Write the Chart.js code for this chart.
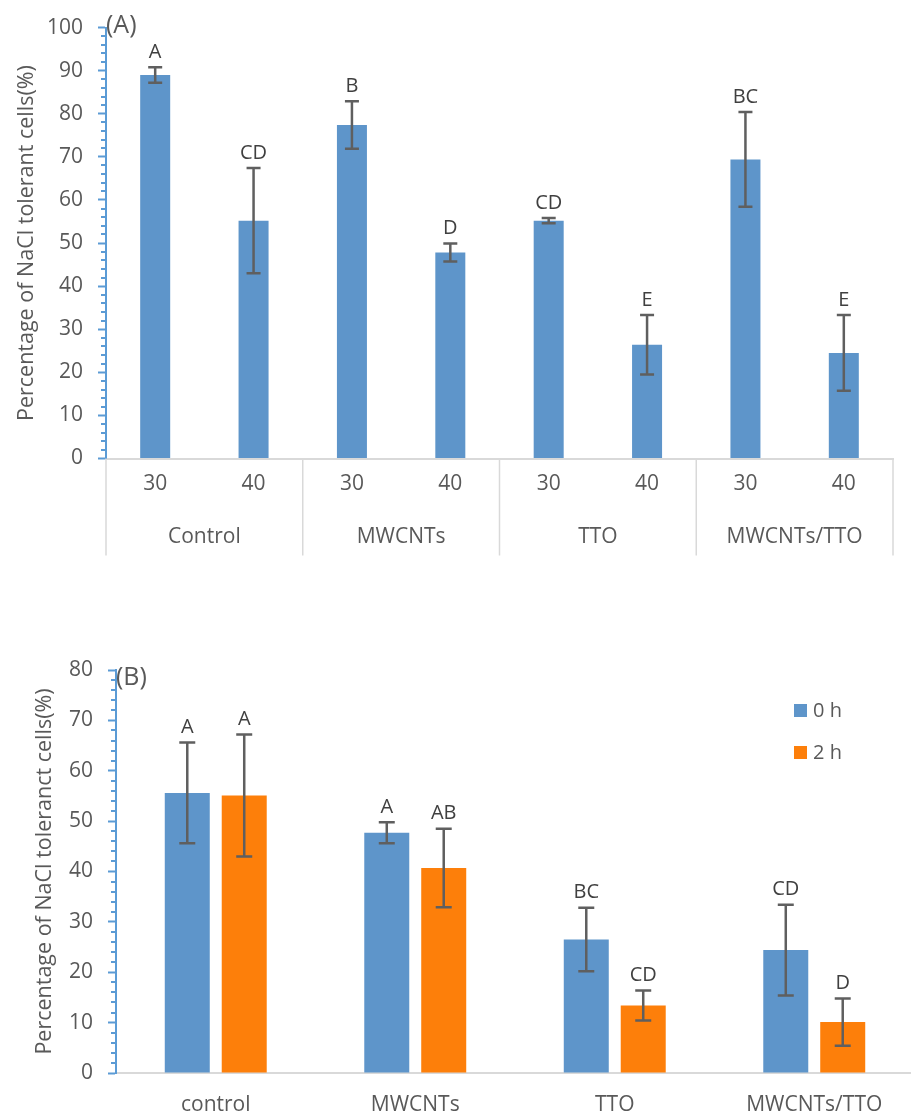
<!DOCTYPE html>
<html>
<head>
<meta charset="utf-8">
<script src="https://cdn.jsdelivr.net/npm/chart.js@4.4.1/dist/chart.umd.min.js"></script>
<style>
  html, body { margin: 0; padding: 0; background: #fff; overflow: hidden; }
  #wrapA { position: absolute; left: 0; top: 0; width: 911px; height: 570px; }
  #wrapB { position: absolute; left: 0; top: 640px; width: 940px; height: 478px; }
</style>
</head>
<body>
<div id="wrapA"><canvas id="chartA"></canvas></div>
<div id="wrapB"><canvas id="chartB"></canvas></div>
<script>
// (A) tolerant cells after treatment at 30 and 40 degrees
const groupsA = ['Control', 'MWCNTs', 'TTO', 'MWCNTs/TTO'];
const tempsA = ['30', '40'];
const meansA = [89.0, 55.2, 77.4, 47.8, 55.2, 26.4, 69.4, 24.5];
const errA = [1.8, 12.2, 5.5, 2.1, 0.6, 6.9, 11.0, 8.8];
const lettersA = ['A', 'CD', 'B', 'D', 'CD', 'E', 'BC', 'E'];

// (B) tolerant cells at 0 h and 2 h
const groupsB = ['control', 'MWCNTs', 'TTO', 'MWCNTs/TTO'];
const seriesB = ['0 h', '2 h'];
const means0h = [55.6, 47.7, 26.5, 24.4];
const err0h = [10.0, 2.1, 6.3, 9.0];
const letters0h = ['A', 'A', 'BC', 'CD'];
const means2h = [55.1, 40.7, 13.4, 10.1];
const err2h = [12.1, 7.8, 3.0, 4.7];
const letters2h = ['A', 'AB', 'CD', 'D'];

const blue = '#5e95ca';
const orange = '#fd7f0a';
const errColor = '#5f5f5f';
const axisBlue = '#5b9bd5';
const axisGray = '#d9d9d9';
const textColor = '#595959';
const letterColor = '#404040';
const sans = '"Open Sans", sans-serif';

Chart.defaults.font.family = sans;
Chart.defaults.color = textColor;
Chart.defaults.animation = false;

// error bars with the significance letter above each one
const errorBarPlugin = {
  id: 'errorBars',
  afterDatasetsDraw(chart, args, opts) {
    const ctx = chart.ctx;
    const y = chart.scales.y;
    chart.data.datasets.forEach((ds, i) => {
      chart.getDatasetMeta(i).data.forEach((bar, j) => {
        const v = ds.data[j], e = ds.errors[j];
        const top = y.getPixelForValue(v + e);
        const bot = y.getPixelForValue(v - e);
        ctx.save();
        ctx.strokeStyle = errColor;
        ctx.lineWidth = 2.5;
        ctx.beginPath();
        ctx.moveTo(bar.x, top); ctx.lineTo(bar.x, bot);
        ctx.moveTo(bar.x - opts.cap, top); ctx.lineTo(bar.x + opts.cap, top);
        ctx.moveTo(bar.x - opts.cap, bot); ctx.lineTo(bar.x + opts.cap, bot);
        ctx.stroke();
        ctx.fillStyle = letterColor;
        ctx.font = '20px ' + sans;
        ctx.textAlign = 'center';
        ctx.textBaseline = 'middle';
        ctx.fillText(ds.letters[j], bar.x, top - 15);
        ctx.restore();
      });
    });
  }
};

// small ticks between the labelled ones on the y axis
const minorTickPlugin = {
  id: 'minorTicks',
  afterDraw(chart, args, opts) {
    const y = chart.scales.y;
    const ctx = chart.ctx;
    const x0 = chart.chartArea.left;
    ctx.save();
    ctx.strokeStyle = axisBlue;
    ctx.lineWidth = 2;
    for (let v = y.min; v <= y.max; v += opts.step) {
      if (v % 10 === 0) continue;
      const py = Math.round(y.getPixelForValue(v));
      ctx.beginPath();
      ctx.moveTo(x0 - 5, py);
      ctx.lineTo(x0, py);
      ctx.stroke();
    }
    ctx.restore();
  }
};

// second row of the category axis: group names and divider lines
const groupAxisPlugin = {
  id: 'groupAxis',
  afterDraw(chart, args, opts) {
    const x = chart.scales.x;
    const { left, right, bottom } = chart.chartArea;
    const ctx = chart.ctx;
    const per = opts.perGroup;
    const edges = [left];
    for (let g = 1; g < opts.groups.length; g++) {
      edges.push((x.getPixelForValue(g * per - 1) + x.getPixelForValue(g * per)) / 2);
    }
    edges.push(right);
    ctx.save();
    ctx.strokeStyle = axisGray;
    ctx.lineWidth = 1.5;
    edges.forEach(px => {
      ctx.beginPath();
      ctx.moveTo(px, bottom);
      ctx.lineTo(px, bottom + opts.depth);
      ctx.stroke();
    });
    ctx.fillStyle = textColor;
    ctx.font = '21px ' + sans;
    ctx.textAlign = 'center';
    ctx.textBaseline = 'middle';
    opts.groups.forEach((name, g) => {
      ctx.fillText(name, (edges[g] + edges[g + 1]) / 2, bottom + opts.labelOffset);
    });
    ctx.restore();
  }
};

const panelLabelPlugin = {
  id: 'panelLabel',
  afterDraw(chart, args, opts) {
    const ctx = chart.ctx;
    ctx.save();
    ctx.fillStyle = textColor;
    ctx.font = '25px ' + sans;
    ctx.textAlign = 'left';
    ctx.textBaseline = 'middle';
    ctx.fillText(opts.text, chart.chartArea.left + opts.dx, chart.chartArea.top + opts.dy);
    ctx.restore();
  }
};

// legend boxes stacked inside the plot, top right
const sideLegendPlugin = {
  id: 'sideLegend',
  afterDraw(chart, args, opts) {
    const ctx = chart.ctx;
    const { right, top } = chart.chartArea;
    ctx.save();
    chart.data.datasets.forEach((ds, i) => {
      const sx = right + opts.dx, sy = top + opts.dy + i * opts.gap;
      ctx.fillStyle = ds.backgroundColor;
      ctx.fillRect(sx, sy, 13, 13);
      ctx.fillStyle = textColor;
      ctx.font = '20px ' + sans;
      ctx.textAlign = 'left';
      ctx.textBaseline = 'middle';
      ctx.fillText(ds.label, sx + 19, sy + 7);
    });
    ctx.restore();
  }
};

function yAxis(max, title, width, titlePad) {
  return {
    min: 0,
    max: max,
    ticks: { stepSize: 10, font: { size: 21 }, padding: 15, color: textColor },
    grid: { drawOnChartArea: false, tickLength: 8, tickColor: axisBlue, tickWidth: 2 },
    border: { color: axisBlue, width: 2 },
    title: { display: true, text: title, font: { size: 21.5 }, color: textColor, padding: { top: titlePad, bottom: 0 } },
    afterFit: s => { s.width = width; }
  };
}

new Chart(document.getElementById('chartA'), {
  type: 'bar',
  data: {
    labels: groupsA.flatMap(() => tempsA),
    datasets: [{
      data: meansA, errors: errA, letters: lettersA,
      backgroundColor: blue, barPercentage: 0.305, categoryPercentage: 1
    }]
  },
  options: {
    responsive: true,
    maintainAspectRatio: false,
    layout: { padding: { top: 24, right: 18, left: 0, bottom: 0 } },
    plugins: {
      legend: { display: false },
      tooltip: { enabled: false },
      errorBars: { cap: 7 },
      minorTicks: { step: 2 },
      groupAxis: { groups: groupsA, perGroup: tempsA.length, depth: 97, labelOffset: 79 },
      panelLabel: { text: '(A)', dx: 0, dy: -2 }
    },
    scales: {
      x: {
        grid: { display: false, drawTicks: false },
        border: { color: axisGray, width: 2 },
        ticks: { font: { size: 21 }, color: textColor, padding: 13 },
        afterFit: s => { s.height = 111.5; }
      },
      y: yAxis(100, 'Percentage of NaCl tolerant cells(%)', 106, 14)
    }
  },
  plugins: [errorBarPlugin, minorTickPlugin, groupAxisPlugin, panelLabelPlugin]
});

new Chart(document.getElementById('chartB'), {
  type: 'bar',
  data: {
    labels: groupsB,
    datasets: [
      { label: seriesB[0], data: means0h, errors: err0h, letters: letters0h, backgroundColor: blue },
      { label: seriesB[1], data: means2h, errors: err2h, letters: letters2h, backgroundColor: orange }
    ]
  },
  options: {
    responsive: true,
    maintainAspectRatio: false,
    datasets: { bar: { barPercentage: 0.79, categoryPercentage: 0.571 } },
    layout: { padding: { top: 30, right: 26, left: 0, bottom: 0 } },
    plugins: {
      legend: { display: false },
      tooltip: { enabled: false },
      errorBars: { cap: 8 },
      minorTicks: { step: 2 },
      panelLabel: { text: '(B)', dx: 0, dy: 8 },
      sideLegend: { dx: -120, dy: 34, gap: 42 }
    },
    scales: {
      x: {
        grid: { display: false, drawTicks: false },
        border: { color: axisGray, width: 2 },
        ticks: { font: { size: 21 }, color: textColor, padding: 19 },
        afterFit: s => { s.height = 45; }
      },
      y: yAxis(80, 'Percentage of NaCl toleranct cells(%)', 116, 32)
    }
  },
  plugins: [errorBarPlugin, minorTickPlugin, panelLabelPlugin, sideLegendPlugin]
});
</script>
</body>
</html>
